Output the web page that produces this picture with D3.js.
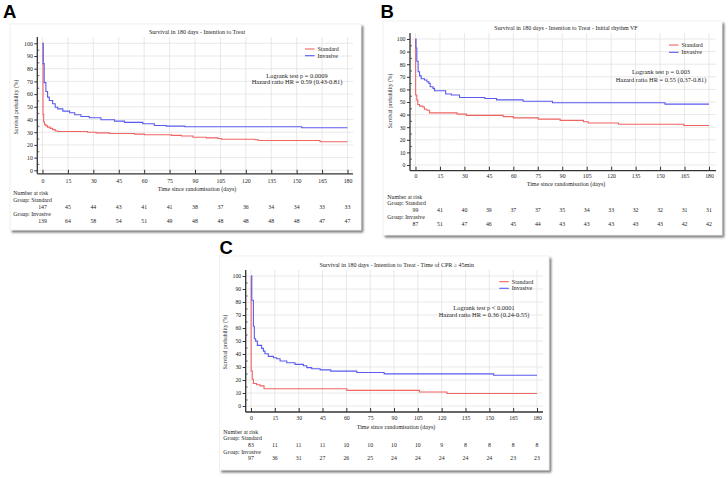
<!DOCTYPE html>
<html><head><meta charset="utf-8">
<script src="https://cdn.jsdelivr.net/npm/d3@7/dist/d3.min.js"></script>
<style>body{margin:0;background:#fff;} svg{display:block;}</style>
</head><body>
<svg id="c" width="728" height="478"></svg>
<script>
// ---------- DATA ----------
const dayTicks = [0,15,30,45,60,75,90,105,120,135,150,165,180];
const pctTicks = [0,10,20,30,40,50,60,70,80,90,100];
const pctMinor = [5,15,25,35,45,55,65,75,85,95];
const seriesNames = ["Standard","Invasive"];
const panelLetters = ["A","B","C"];

// Panel A
const titleA = "Survival in 180 days - Intention to Treat";
const statsA = ["Logrank test p = 0.0009","Hazard ratio HR = 0.59 (0.43-0.81)"];
const stdA = [[0,100],[0.3,44],[0.7,38],[1.2,36],[2,35],[3,34],[4.5,33],[6,32],[7.5,31],[9,30.6],[26.6,30],[31.6,29.5],[39.5,29],[54.3,28.5],[60.2,28],[76,27.5],[82,27],[88.8,26],[96.7,25.5],[103.6,25],[105.6,24.5],[125.3,24],[127.3,23.5],[163.8,22.5]];
const invA = [[0,100],[0.4,84],[1,69],[2,62],[3,57.6],[4,55],[6,52.4],[7.5,49.7],[9,48.4],[12,46.6],[16,45.3],[19,43.7],[22.7,42.4],[27.6,41.4],[34.5,39.8],[42.5,38.7],[48.4,37.7],[59.2,36.6],[66,35.3],[73,34.8],[84,34.3],[153,33.5]];
const riskStdA = [147,45,44,43,41,41,38,37,36,34,34,33,33];
const riskInvA = [139,64,58,54,51,49,48,48,48,48,48,47,47];

// Panel B
const titleB = "Survival in 180 days - Intention to Treat - Initial  rhythm VF";
const statsB = ["Logrank test p = 0.003","Hazard ratio HR = 0.55 (0.37-0.81)"];
const stdB = [[0,100],[0.1,55.5],[0.8,51.5],[1.4,48],[2.5,46.7],[4.5,46],[5.5,44.3],[7,43.5],[8.6,41.4],[25.5,40.4],[31.2,39.4],[53.8,38.4],[60,37.4],[75.3,36.4],[88.7,35.4],[103,34.3],[106,33.3],[124.6,32.3],[164.6,31.3]];
const invB = [[0,100],[0.3,92.8],[0.8,82.4],[1.6,74],[2.5,70.7],[3.5,68.5],[5.5,67.5],[7,66.1],[8.2,64.8],[9,62.1],[10.7,60.8],[11.7,58.9],[18.5,56.3],[22,55.5],[27,53.6],[42.5,52.8],[49.7,51.7],[66,50.6],[84,49.4],[153,48.3]];
const riskStdB = [99,41,40,39,37,37,35,34,33,32,32,31,31];
const riskInvB = [87,51,47,46,45,44,43,43,43,43,43,42,42];

// Panel C
const titleC = "Survival in 180 days - Intention to Treat - Time of CPR \u2265 45min";
const statsC = ["Logrank test p < 0.0001","Hazard ratio HR = 0.36 (0.24-0.55)"];
const stdC = [[0,100],[0.1,27],[0.8,20.6],[1.5,17.3],[3.5,16.3],[5.7,15.5],[8.2,13.3],[60.3,12],[106,10.8],[123.3,9.6]];
const invC = [[0,100],[0.5,81.4],[1.5,61.3],[2.1,51.7],[2.9,49.9],[4,46.6],[6.7,44.3],[7.8,42.2],[8.8,40.2],[10.9,38.2],[14.1,37.1],[16.2,36.4],[18.3,34.6],[22.5,33.3],[27.7,32],[33,31],[35.1,29.5],[38.2,28.7],[43.5,27.8],[50.2,26.8],[66.6,25.8],[83.8,24.7],[152.7,23.7]];
const riskStdC = [83,11,11,11,10,10,10,10,9,8,8,8,8];
const riskInvC = [97,36,31,27,26,25,24,24,24,24,24,23,23];

// ---------- STYLE / LAYOUT ----------
const SERIF = "'Liberation Serif','Times New Roman',serif";
const SANS = "'Liberation Sans',Arial,sans-serif";
const colors = ["#f06464", "#5a5af0"];
const svg = d3.select("#c");

const defs = svg.append("defs");
const f = defs.append("filter").attr("id","sh").attr("x","-5%").attr("y","-5%").attr("width","112%").attr("height","112%");
f.append("feDropShadow").attr("dx",2).attr("dy",2.2).attr("stdDeviation",1.3).attr("flood-color","#000").attr("flood-opacity",0.55);

const panels = [
  {letter:[3,17.5], title:titleA, stats:statsA, std:stdA, inv:invA, rs:riskStdA, ri:riskInvA,
   card:[10,24,351,206], xr:[42.5,347.5], yr:[170.3,43.3], yAx:37.3, xAx:173.8, top:37, right:353,
   titleC:[197,32.3], leg:[305,49,55.7], statsC:[297,75.7,81.7], pad:4.8, xTitle:[197,188.7],
   yTitle:[16,107], riskX:13.3, riskY:[192.7,200,206.7,213.7,220.7]},
  {letter:[380.5,17.5], title:titleB, stats:statsB, std:stdB, inv:invB, rs:riskStdB, ri:riskInvB,
   card:[383,21,339,214], xr:[415.5,709], yr:[165,39], yAx:410, xAx:170.7, top:33, right:716,
   titleC:[566,28.3], leg:[669,45,52.3], statsC:[661,71.7,79.3], pad:3.6, xTitle:[566,184],
   yTitle:[390.5,101], riskX:387.3, riskY:[196.7,202.7,210,217.3,224]},
  {letter:[219.5,253.5], title:titleC, stats:statsC, std:stdC, inv:invC, rs:riskStdC, ri:riskInvC,
   card:[219.5,256,329.5,214], xr:[251,537], yr:[406,276], yAx:245.7, xAx:412, top:270, right:543,
   titleC:[396.7,265], leg:[499.3,281.7,288.3], statsC:[484,307.7,315], pad:3.8, xTitle:[396,426.7],
   yTitle:[225,342], riskX:223.3, riskY:[432.3,438.3,445,451.7,458.3]}
];

panels.forEach((P,i) => {
  const g = svg.append("g");
  // letter
  g.append("text").attr("x",P.letter[0]).attr("y",P.letter[1]).text(panelLetters[i])
    .attr("font-family",SANS).attr("font-weight","bold").attr("font-size",18.5).attr("fill","#000");
  // card
  g.append("rect").attr("x",P.card[0]).attr("y",P.card[1]).attr("width",P.card[2]).attr("height",P.card[3])
    .attr("fill","#fff").attr("stroke","#e4e4e4").attr("stroke-width",0.5).attr("filter","url(#sh)");

  const x = d3.scaleLinear().domain([0,180]).range(P.xr);
  const y = d3.scaleLinear().domain([0,100]).range(P.yr);

  // grid
  g.append("g").selectAll("line").data(dayTicks).join("line")
    .attr("x1",d=>x(d)).attr("x2",d=>x(d)).attr("y1",P.top).attr("y2",P.xAx)
    .attr("stroke","#e0e0e0").attr("stroke-width",0.7);
  g.append("g").selectAll("line").data(pctTicks).join("line")
    .attr("x1",P.yAx).attr("x2",P.right).attr("y1",d=>y(d)).attr("y2",d=>y(d))
    .attr("stroke","#e0e0e0").attr("stroke-width",0.7);

  // title
  g.append("text").attr("x",P.titleC[0]).attr("y",P.titleC[1]).attr("dy","0.35em")
    .attr("text-anchor","middle").attr("font-family",SERIF).attr("font-size",6).attr("fill","#222").text(P.title);

  // curves
  const line = d3.line().x(d=>x(d[0])).y(d=>y(d[1])).curve(d3.curveStepAfter);
  [P.std, P.inv].forEach((s,k) => {
    const pts = s.concat([[180, s[s.length-1][1]]]);
    g.append("path").datum(pts).attr("d",line).attr("fill","none")
      .attr("stroke",colors[k]).attr("stroke-width",1.1);
  });

  // y axis
  const ya = g.append("g").attr("transform",`translate(${P.yAx},0)`)
    .call(d3.axisLeft(y).tickValues(pctTicks).tickSize(3).tickPadding(1.5));
  ya.select(".domain").remove();
  ya.selectAll("line").attr("stroke","#333").attr("stroke-width",1);
  ya.selectAll("text").attr("font-family",SERIF).attr("font-size",5.8).attr("fill","#222");
  const ym = g.append("g").attr("transform",`translate(${P.yAx},0)`)
    .call(d3.axisRight(y).tickValues(pctMinor).tickSize(2).tickFormat(""));
  ym.select(".domain").remove();
  ym.selectAll("line").attr("stroke","#444").attr("stroke-width",0.8);
  g.append("line").attr("x1",P.yAx).attr("x2",P.yAx).attr("y1",P.top).attr("y2",P.xAx)
    .attr("stroke","#333").attr("stroke-width",1.3);

  // x axis
  const xa = g.append("g").attr("transform",`translate(0,${P.xAx})`)
    .call(d3.axisBottom(x).tickValues(dayTicks).tickSize(-4).tickPadding(P.pad));
  xa.select(".domain").remove();
  xa.selectAll("line").attr("stroke","#333").attr("stroke-width",1);
  xa.selectAll("text").attr("font-family",SERIF).attr("font-size",5.8).attr("fill","#222");
  g.append("line").attr("x1",P.yAx).attr("x2",P.right).attr("y1",P.xAx).attr("y2",P.xAx)
    .attr("stroke","#333").attr("stroke-width",1.3);

  // axis titles
  g.append("text").attr("x",P.xTitle[0]).attr("y",P.xTitle[1]).attr("dy","0.35em").attr("text-anchor","middle")
    .attr("font-family",SERIF).attr("font-size",6).attr("fill","#222").text("Time since randomisation  (days)");
  g.append("text").attr("transform",`translate(${P.yTitle[0]},${P.yTitle[1]}) rotate(-90)`).attr("dy","0.35em")
    .attr("text-anchor","middle").attr("font-family",SERIF).attr("font-size",5.6).attr("fill","#222")
    .text("Survival probability (%)");

  // legend
  seriesNames.forEach((nm,k) => {
    const ly = P.leg[1+k];
    g.append("line").attr("x1",P.leg[0]).attr("x2",P.leg[0]+9.5).attr("y1",ly).attr("y2",ly)
      .attr("stroke",colors[k]).attr("stroke-width",1.1);
    g.append("text").attr("x",P.leg[0]+12.5).attr("y",ly).attr("dy","0.35em").attr("font-family",SERIF)
      .attr("font-size",6).attr("fill","#222").text(nm);
  });

  // stats
  P.stats.forEach((t,k) => {
    g.append("text").attr("x",P.statsC[0]).attr("y",P.statsC[1+k]).attr("dy","0.35em").attr("text-anchor","middle")
      .attr("font-family",SERIF).attr("font-size",6.4).attr("fill","#222").text(t);
  });

  // risk table
  const labels = ["Number at risk","Group: Standard",null,"Group: Invasive",null];
  labels.forEach((t,k) => {
    if (t) g.append("text").attr("x",P.riskX).attr("y",P.riskY[k]).attr("dy","0.35em")
      .attr("font-family",SERIF).attr("font-size",5.8).attr("fill","#222").text(t);
  });
  [[P.rs,2],[P.ri,4]].forEach(([arr,row]) => {
    g.append("g").selectAll("text").data(arr).join("text")
      .attr("x",(d,j)=>x(dayTicks[j])).attr("y",P.riskY[row]).attr("dy","0.35em").attr("text-anchor","middle")
      .attr("font-family",SERIF).attr("font-size",5.8).attr("fill","#222").text(d=>d);
  });
});
</script>
</body></html>
